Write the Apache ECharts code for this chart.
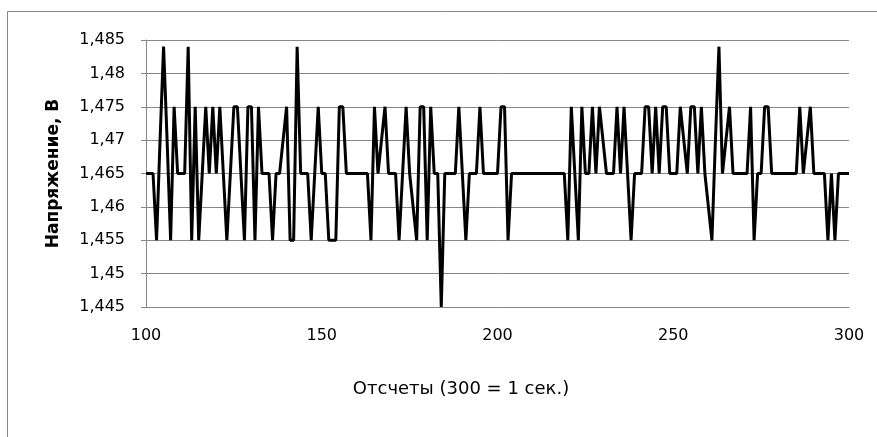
<!DOCTYPE html>
<html>
<head>
<meta charset="utf-8">
<script src="https://cdn.jsdelivr.net/npm/echarts@6/dist/echarts.min.js"></script>
<style>
  html, body { margin: 0; padding: 0; background: #fff; }
  #main { width: 877px; height: 437px; }
</style>
</head>
<body>
<div id="main"></div>
<script>
// номер первого отсчета
var firstSample = 100
// напряжение, В (отсчеты 100..300)
var voltage = [
  1.465, 1.465, 1.465, 1.455, 1.47, 1.484, 1.47, 1.455, 1.475, 1.465,
  1.465, 1.465, 1.484, 1.455, 1.475, 1.455, 1.465, 1.475, 1.465, 1.475,
  1.465, 1.475, 1.465, 1.455, 1.465, 1.475, 1.475, 1.465, 1.455, 1.475,
  1.475, 1.455, 1.475, 1.465, 1.465, 1.465, 1.455, 1.465, 1.465, 1.47,
  1.475, 1.455, 1.455, 1.484, 1.465, 1.465, 1.465, 1.455, 1.465, 1.475,
  1.465, 1.465, 1.455, 1.455, 1.455, 1.475, 1.475, 1.465, 1.465, 1.465,
  1.465, 1.465, 1.465, 1.465, 1.455, 1.475, 1.465, 1.47, 1.475, 1.465,
  1.465, 1.465, 1.455, 1.465, 1.475, 1.465, 1.46, 1.455, 1.475, 1.475,
  1.455, 1.475, 1.465, 1.465, 1.445, 1.465, 1.465, 1.465, 1.465, 1.475,
  1.465, 1.455, 1.465, 1.465, 1.465, 1.475, 1.465, 1.465, 1.465, 1.465,
  1.465, 1.475, 1.475, 1.455, 1.465, 1.465, 1.465, 1.465, 1.465, 1.465,
  1.465, 1.465, 1.465, 1.465, 1.465, 1.465, 1.465, 1.465, 1.465, 1.465,
  1.455, 1.475, 1.465, 1.455, 1.475, 1.465, 1.465, 1.475, 1.465, 1.475,
  1.47, 1.465, 1.465, 1.465, 1.475, 1.465, 1.475, 1.465, 1.455, 1.465,
  1.465, 1.465, 1.475, 1.475, 1.465, 1.475, 1.465, 1.475, 1.475, 1.465,
  1.465, 1.465, 1.475, 1.47, 1.465, 1.475, 1.475, 1.465, 1.475, 1.465,
  1.46, 1.455, 1.47, 1.484, 1.465, 1.47, 1.475, 1.465, 1.465, 1.465,
  1.465, 1.465, 1.475, 1.455, 1.465, 1.465, 1.475, 1.475, 1.465, 1.465,
  1.465, 1.465, 1.465, 1.465, 1.465, 1.465, 1.475, 1.465, 1.47, 1.475,
  1.465, 1.465, 1.465, 1.465, 1.455, 1.465, 1.455, 1.465, 1.465, 1.465,
  1.465
]
var xTicks = [100, 150, 200, 250, 300]
var yTicks = [1.445, 1.45, 1.455, 1.46, 1.465, 1.47, 1.475, 1.48, 1.485]

var font = 'DejaVu Sans'
var gridColor = '#878787'

var points = []
for (var i = 0; i < voltage.length; i++) {
  points.push([firstSample + i, voltage[i]])
}

function commaNum(v) {
  return String(+v.toFixed(3)).replace('.', ',')
}

var chart = echarts.init(document.getElementById('main'), null, { renderer: 'canvas' })

var option = {
  animation: false,
  backgroundColor: '#fff',
  grid: {
    left: 146,
    top: 40,
    right: 28,
    bottom: 130
  },
  xAxis: {
    type: 'value',
    min: xTicks[0],
    max: xTicks[xTicks.length - 1],
    interval: xTicks[1] - xTicks[0],
    axisLine: { show: true, onZero: false, lineStyle: { color: gridColor, width: 1 } },
    axisTick: { show: false },
    splitLine: { show: false },
    axisLabel: {
      margin: 21,
      color: '#000',
      fontFamily: font,
      fontSize: 16
    }
  },
  yAxis: {
    type: 'value',
    min: yTicks[0],
    max: yTicks[yTicks.length - 1],
    interval: 0.005,
    name: 'Напряжение, В',
    nameLocation: 'middle',
    nameRotate: 90,
    nameGap: 84,
    nameTextStyle: {
      color: '#000',
      fontFamily: font,
      fontSize: 17,
      fontWeight: 'bold'
    },
    axisLine: { show: true, lineStyle: { color: gridColor, width: 1 } },
    axisTick: { show: true, inside: false, length: 5, lineStyle: { color: gridColor } },
    splitLine: { show: true, lineStyle: { color: gridColor, width: 1 } },
    axisLabel: {
      margin: 21,
      color: '#000',
      fontFamily: font,
      fontSize: 16,
      formatter: commaNum
    }
  },
  graphic: [
    {
      type: 'rect',
      silent: true,
      shape: { x: 7.5, y: 11.5, width: 900, height: 460 },
      style: { fill: 'none', stroke: gridColor, lineWidth: 1 }
    },
    {
      type: 'text',
      silent: true,
      x: 461,
      y: 389,
      style: {
        text: 'Отсчеты (300 = 1 сек.)',
        fill: '#000',
        font: '18px "DejaVu Sans"',
        textAlign: 'center',
        textVerticalAlign: 'middle'
      }
    }
  ],
  series: [
    {
      type: 'line',
      data: points,
      showSymbol: false,
      symbol: 'none',
      lineStyle: { color: '#000', width: 3 },
      emphasis: { disabled: true }
    }
  ]
}

chart.setOption(option)
</script>
</body>
</html>
